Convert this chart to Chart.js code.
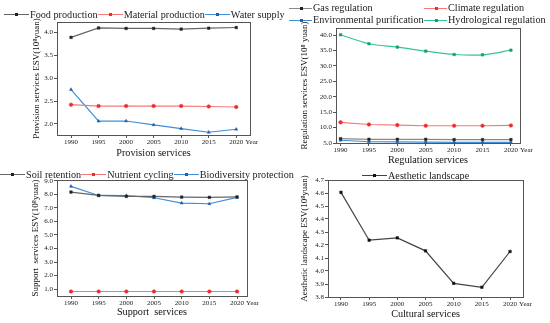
<!DOCTYPE html>
<html>
<head>
<meta charset="utf-8">
<script src="https://cdn.jsdelivr.net/npm/chart.js@4.4.1/dist/chart.umd.min.js"></script>
<style>
  body { margin: 0; background: #fff; }
  #wrap { position: relative; width: 550px; height: 323px; overflow: hidden; font-family: 'Liberation Serif', 'Times New Roman', serif; }
  canvas { position: absolute; }
  .legend { position: absolute; font-size: 10.2px; color: #222; white-space: nowrap; z-index: 2; line-height: 12px; }
  .legend .item { display: inline-flex; align-items: center; }
  .legend .mark { position: relative; display: inline-block; width: 25px; height: 1px; margin-right: 1px; }
  .legend .mark i { position: absolute; left: 11px; top: -1px; width: 3px; height: 3px; }
  #leg2 { display: grid; grid-template-columns: 135px auto; }
  #leg2 .mark { width: 23px; }
</style>
</head>
<body>
<div id="wrap">
  <canvas id="c1" width="275" height="166" style="left:0;top:0"></canvas>
  <canvas id="c2" width="275" height="170" style="left:275px;top:0"></canvas>
  <canvas id="c3" width="275" height="163" style="left:0;top:160px"></canvas>
  <canvas id="c4" width="275" height="163" style="left:275px;top:160px"></canvas>
  <div class="legend" id="leg1" style="left:4px;top:6px"></div>
  <div class="legend" id="leg2" style="left:289px;top:2px"></div>
  <div class="legend" id="leg3" style="left:0;top:166px"></div>
  <div class="legend" id="leg4" style="left:362px;top:167px"></div>
</div>
<script>
const years = [1990, 1995, 2000, 2005, 2010, 2015, 2020];

// Provision services (10^8 yuan)
const foodProduction = [3.885, 4.09, 4.08, 4.08, 4.065, 4.085, 4.10];
const materialProduction = [2.42, 2.39, 2.39, 2.39, 2.39, 2.38, 2.37];
const waterSupply = [2.75, 2.06, 2.065, 1.98, 1.90, 1.82, 1.885];

// Regulation services
const gasRegulation = [6.4, 6.2, 6.2, 6.2, 6.1, 6.1, 6.1];
const climateRegulation = [11.7, 11.0, 10.8, 10.6, 10.6, 10.6, 10.7];
const environmentalPurification = [5.9, 5.4, 5.35, 5.3, 5.2, 5.2, 5.2];
const hydrologicalRegulation = [40.1, 37.2, 36.1, 34.8, 33.7, 33.6, 35.1];

// Support services
const soilRetention = [8.16, 7.91, 7.84, 7.84, 7.79, 7.77, 7.8];
const nutrientCycling = [0.83, 0.83, 0.83, 0.83, 0.83, 0.83, 0.83];
const biodiversityProtection = [8.58, 7.91, 7.9, 7.74, 7.35, 7.3, 7.77];

// Cultural services
const aestheticLandscape = [4.605, 4.237, 4.255, 4.155, 3.905, 3.875, 4.15];

const FONT = "'Liberation Serif', 'DejaVu Serif', serif";

// legend as html so it can spill over the panel edges like the original
const htmlLegend = {
  id: 'htmlLegend',
  afterUpdate(chart, args, options) {
    const box = document.getElementById(options.containerID);
    box.innerHTML = '';
    chart.data.datasets.forEach(ds => {
      const item = document.createElement('span');
      item.className = 'item';
      const mark = document.createElement('span');
      mark.className = 'mark';
      mark.style.background = ds.borderColor;
      const dot = document.createElement('i');
      dot.style.background = ds.pointBackgroundColor;
      mark.appendChild(dot);
      const text = document.createElement('span');
      text.textContent = ds.label;
      item.appendChild(mark);
      item.appendChild(text);
      box.appendChild(item);
    });
  }
};

// box around plot + "Year" after last tick
const frameAndYear = {
  id: 'frameAndYear',
  afterDraw(chart) {
    const { ctx, chartArea: a, scales: { x } } = chart;
    ctx.save();
    ctx.strokeStyle = '#555';
    ctx.lineWidth = 1;
    ctx.strokeRect(Math.round(a.left) + 0.5, Math.round(a.top) + 0.5, Math.round(a.width), Math.round(a.height));
    ctx.font = '7px ' + FONT;
    ctx.fillStyle = '#222';
    ctx.textBaseline = 'middle';
    ctx.fillText('Year', x.getPixelForValue(2020) + 9, a.bottom + 3 + 4.2);
    ctx.restore();
  }
};

function makeChart(id, cfg) {
  return new Chart(document.getElementById(id), {
    type: 'line',
    data: {
      datasets: cfg.series.map(s => ({
        label: s.label,
        data: years.map((yr, i) => ({ x: yr, y: s.values[i] })),
        borderColor: s.line,
        pointBackgroundColor: s.mark,
        pointBorderColor: s.mark,
        borderWidth: 1.2,
        pointRadius: 1.8,
        pointBorderWidth: 0.5,
        pointStyle: s.shape || 'rect',
        tension: s.tension || 0
      }))
    },
    options: {
      responsive: false,
      animation: false,
      layout: { padding: cfg.pad },
      plugins: {
        legend: { display: false },
        tooltip: { enabled: false },
        htmlLegend: { containerID: cfg.legend }
      },
      scales: {
        x: {
          type: 'linear',
          min: cfg.xMin,
          max: cfg.xMax,
          afterBuildTicks: sc => { sc.ticks = years.map(v => ({ value: v })); },
          afterFit: sc => { sc.height = cfg.xHeight; },
          ticks: { padding: 0, maxRotation: 0, autoSkip: false, color: '#222', font: { family: FONT, size: 7 }, callback: v => String(v) },
          grid: { drawOnChartArea: false, tickLength: 3, color: '#555' },
          border: { color: '#555' },
          title: { display: true, text: cfg.xTitle, color: '#111', font: { family: FONT, size: 10.2 }, padding: { bottom: cfg.xTitlePad } }
        },
        y: {
          min: cfg.yMin,
          max: cfg.yMax,
          afterFit: sc => { sc.width = cfg.yWidth; },
          ticks: { stepSize: cfg.step, includeBounds: false, padding: 1, color: '#222', font: { family: FONT, size: 7 }, callback: v => v.toFixed(1) },
          grid: { drawOnChartArea: false, tickLength: 3, color: '#555' },
          border: { color: '#555' },
          title: { display: true, text: cfg.yTitle, color: '#111', font: { family: FONT, size: 9 }, padding: { top: cfg.yTitlePad } }
        }
      }
    },
    plugins: [htmlLegend, frameAndYear]
  });
}

makeChart('c1', {
  legend: 'leg1',
  series: [
    { label: 'Food production', values: foodProduction, line: '#666', mark: '#222' },
    { label: 'Material production', values: materialProduction, line: '#f47a7a', mark: '#ee2a2a', shape: 'circle' },
    { label: 'Water supply', values: waterSupply, line: '#3d8fd8', mark: '#1f5fae', shape: 'triangle' }
  ],
  pad: { top: 22, right: 25, left: 0, bottom: 0 },
  xMin: 1987.45, xMax: 2022.5, xHeight: 31, xTitle: 'Provision services', xTitlePad: 7,
  yMin: 1.76, yMax: 4.22, step: 0.5, yWidth: 57,
  yTitle: 'Provision services ESV(10\u2078yuan)', yTitlePad: 31
});

makeChart('c2', {
  legend: 'leg2',
  series: [
    { label: 'Gas regulation', values: gasRegulation, line: '#8a8a8a', mark: '#222' },
    { label: 'Climate regulation', values: climateRegulation, line: '#f47a7a', mark: '#ee2a2a', shape: 'circle' },
    { label: 'Environmental purification', values: environmentalPurification, line: '#3d8fd8', mark: '#1f5fae', shape: 'triangle' },
    { label: 'Hydrological regulation', values: hydrologicalRegulation, line: '#34c690', mark: '#13a066', tension: 0.3 }
  ],
  pad: { top: 28, right: 30, left: 0, bottom: 0 },
  xMin: 1989.2, xMax: 2021.6, xHeight: 27, xTitle: 'Regulation services', xTitlePad: 3.7,
  yMin: 5, yMax: 42.3, step: 5, yWidth: 61,
  yTitle: 'Regulation services ESV(10\u2078 yuan)', yTitlePad: 24.5
});

makeChart('c3', {
  legend: 'leg3',
  series: [
    { label: 'Soil retention', values: soilRetention, line: '#666', mark: '#222' },
    { label: 'Nutrient cycling', values: nutrientCycling, line: '#f47a7a', mark: '#ee2a2a', shape: 'circle' },
    { label: 'Biodiversity protection', values: biodiversityProtection, line: '#3d8fd8', mark: '#1f5fae', shape: 'triangle' }
  ],
  pad: { top: 20, right: 28, left: 0, bottom: 0 },
  xMin: 1987.47, xMax: 2021.8, xHeight: 27, xTitle: 'Support  services', xTitlePad: 4.7,
  yMin: 0.5, yMax: 9.05, step: 1, yWidth: 57,
  yTitle: 'Support  services ESV(10\u2078yuan)', yTitlePad: 30.6
});

makeChart('c4', {
  legend: 'leg4',
  series: [
    { label: 'Aesthetic landscape', values: aestheticLandscape, line: '#444', mark: '#111' }
  ],
  pad: { top: 20, right: 27, left: 0, bottom: 0 },
  xMin: 1987.7, xMax: 2022.3, xHeight: 26, xTitle: 'Cultural services', xTitlePad: 2.7,
  yMin: 3.8, yMax: 4.7, step: 0.1, yWidth: 53,
  yTitle: 'Aesthetic landscape ESV(10\u2078yuan)', yTitlePad: 24.6
});
</script>
</body>
</html>
